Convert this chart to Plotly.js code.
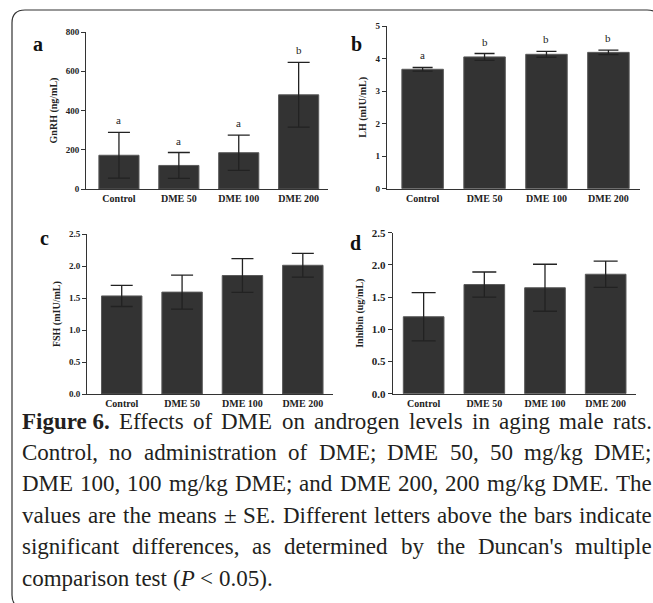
<!DOCTYPE html>
<html><head><meta charset="utf-8">
<script src="https://cdn.plot.ly/plotly-3.0.1.min.js"></script>
<style>html,body{margin:0;padding:0;background:#fff}</style>
</head><body><div id="chart" style="width:653px;height:603px"></div>
<script>
// ---- data ----
const categories = ["Control", "DME 50", "DME 100", "DME 200"];
const gnrhMean = [172, 120, 185, 480];
const gnrhSE = [117, 66, 90, 165];
const gnrhLetters = ["a", "a", "a", "b"];
const lhMean = [3.67, 4.05, 4.13, 4.19];
const lhSE = [0.055, 0.105, 0.09, 0.07];
const lhLetters = ["a", "b", "b", "b"];
const fshMean = [1.535, 1.595, 1.855, 2.015];
const fshSE = [0.165, 0.265, 0.265, 0.185];
const inhibinMean = [1.195, 1.695, 1.645, 1.855];
const inhibinSE = [0.375, 0.195, 0.365, 0.205];
const captionLines = [
  "<b>Figure\u00A06.</b> Effects of DME on androgen levels in aging male rats.",
  "Control, no administration of DME; DME 50, 50 mg/kg DME;",
  "DME 100, 100 mg/kg DME; and DME 200, 200 mg/kg DME. The",
  "values are the means ± SE. Different letters above the bars indicate",
  "significant differences, as determined by the Duncan's multiple",
  "comparison test (<i>P</i> &lt; 0.05)."
];

// ---- helpers ----
const W = 653, H = 603;
const PX = p => p / W;
const PY = p => 1 - p / H;
const SERIF = '"Liberation Serif", "Times New Roman", serif';
const INK = '#222';

function barTrace(y, se, xa, ya, cap) {
  return {
    type: 'bar', x: categories, y: y, xaxis: xa, yaxis: ya,
    marker: {color: '#333333', line: {color: '#5a5a5a', width: 1}},
    error_y: {type: 'data', array: se, visible: true, color: '#222', thickness: 1.3, width: cap},
    hoverinfo: 'x+y', showlegend: false
  };
}
function xAxis(x0, x1, range, anchor) {
  return {
    domain: [PX(x0), PX(x1)], range: range, anchor: anchor, type: 'category',
    showline: true, linecolor: '#333', linewidth: 1, ticks: '', showgrid: false, zeroline: false,
    tickfont: {family: SERIF, size: 10, weight: 'bold', color: INK}, fixedrange: true
  };
}
function yAxis(y0, y1, range, dtick, fmt, anchor, title, tsize, standoff) {
  return {
    domain: [PY(y0), PY(y1)], range: range, dtick: dtick, tick0: 0, tickformat: fmt, anchor: anchor,
    showline: true, linecolor: '#333', linewidth: 1, ticks: 'outside', ticklen: 4, tickwidth: 1, tickcolor: '#333',
    showgrid: false, zeroline: false,
    tickfont: {family: SERIF, size: tsize, weight: 'bold', color: INK},
    title: {text: title, font: {family: SERIF, size: 10, weight: 'bold', color: INK}, standoff: standoff},
    fixedrange: true
  };
}

const data = [
  barTrace(gnrhMean, gnrhSE, 'x', 'y', 11),
  barTrace(lhMean, lhSE, 'x2', 'y2', 10),
  barTrace(fshMean, fshSE, 'x3', 'y3', 11),
  barTrace(inhibinMean, inhibinSE, 'x4', 'y4', 12)
];

const annotations = [];
function letters(mean, se, lets, xr, yr) {
  lets.forEach((t, i) => annotations.push({
    xref: xr, yref: yr, x: categories[i], y: mean[i] + se[i], text: t, showarrow: false,
    yanchor: 'bottom', yshift: 4, font: {family: SERIF, size: 11, color: INK}
  }));
}
letters(gnrhMean, gnrhSE, gnrhLetters, 'x', 'y');
letters(lhMean, lhSE, lhLetters, 'x2', 'y2');

function panelLabel(t, x, y) {
  annotations.push({xref: 'paper', yref: 'paper', x: PX(x), y: PY(y), text: '<b>' + t + '</b>',
    showarrow: false, xanchor: 'center', yanchor: 'middle', font: {family: SERIF, size: 20, color: '#111'}});
}
panelLabel('a', 38, 44);
panelLabel('b', 357, 44);
panelLabel('c', 44, 238);
panelLabel('d', 356, 243);

// ---- justified caption ----
const CAP_SIZE = 23;
const ctx = document.createElement('canvas').getContext('2d');
function measure(tok) {
  let w = 0, bold = false, ital = false;
  tok.split(/(<\/?[bi]>)/).forEach(p => {
    if (p === '<b>') { bold = true; return; } if (p === '</b>') { bold = false; return; }
    if (p === '<i>') { ital = true; return; } if (p === '</i>') { ital = false; return; }
    if (!p) return;
    const s = p.replace(/&lt;/g, '<').replace(/&gt;/g, '>').replace(/&amp;/g, '&');
    ctx.font = (ital ? 'italic ' : '') + (bold ? 'bold ' : '') + CAP_SIZE + 'px "Liberation Serif"';
    w += ctx.measureText(s).width;
  });
  return w;
}
const capLeft = 21, capRight = 651, capTop = 421, capPitch = 31.4;
ctx.font = CAP_SIZE + 'px "Liberation Serif"';
const spaceW = ctx.measureText(' ').width;
captionLines.forEach((line, li) => {
  const words = line.split(' ');
  const widths = words.map(measure);
  const total = widths.reduce((a, b) => a + b, 0);
  const justify = li < captionLines.length - 1;
  const gap = justify ? (capRight - capLeft - total) / (words.length - 1) : spaceW;
  let x = capLeft;
  words.forEach((w, wi) => {
    annotations.push({xref: 'paper', yref: 'paper', x: PX(x), y: PY(capTop + li * capPitch),
      xanchor: 'left', yanchor: 'middle', text: w, showarrow: false, borderpad: 0,
      font: {family: SERIF, size: CAP_SIZE, color: '#231f20'}});
    x += widths[wi] + gap;
  });
});

// rounded frame
const fl = 12, ft = 10, fr = 660, fb = 608, r = 13;
const framePath = `M ${PX(fl)},${PY(fb - r)} L ${PX(fl)},${PY(ft + r)} Q ${PX(fl)},${PY(ft)} ${PX(fl + r)},${PY(ft)} ` +
  `L ${PX(fr - r)},${PY(ft)} Q ${PX(fr)},${PY(ft)} ${PX(fr)},${PY(ft + r)} L ${PX(fr)},${PY(fb - r)} ` +
  `Q ${PX(fr)},${PY(fb)} ${PX(fr - r)},${PY(fb)} L ${PX(fl + r)},${PY(fb)} Q ${PX(fl)},${PY(fb)} ${PX(fl)},${PY(fb - r)} Z`;

const layout = {
  width: W, height: H, margin: {l: 0, r: 0, t: 0, b: 0}, autosize: false,
  paper_bgcolor: '#fff', plot_bgcolor: 'rgba(0,0,0,0)', bargap: 0.33, showlegend: false,
  font: {family: SERIF, color: INK},
  xaxis: xAxis(86, 328, [-0.55, 3.49], 'y'),
  yaxis: yAxis(189, 32, [0, 800], 200, 'd', 'x', 'GnRH (ng/mL)', 9, 6),
  xaxis2: xAxis(386.7, 640, [-0.58, 3.51], 'y2'),
  yaxis2: yAxis(188.7, 26, [0, 5], 1, 'd', 'x2', 'LH (mIU/mL)', 9, 6),
  xaxis3: xAxis(87, 333, [-0.575, 3.5], 'y3'),
  yaxis3: yAxis(394, 234.3, [0, 2.5], 0.5, '.1f', 'x3', 'FSH (mIU/mL)', 9, 6),
  xaxis4: xAxis(392.7, 636, [-0.51, 3.5], 'y4'),
  yaxis4: yAxis(393.7, 232.7, [0, 2.5], 0.5, '.1f', 'x4', 'Inhibin (ug/mL)', 11, 6),
  annotations: annotations,
  shapes: [{type: 'path', xref: 'paper', yref: 'paper', path: framePath, line: {color: '#333', width: 1.2}, fillcolor: 'rgba(0,0,0,0)'}]
};
Plotly.newPlot('chart', data, layout, {displayModeBar: false, staticPlot: true});
</script></body></html>
